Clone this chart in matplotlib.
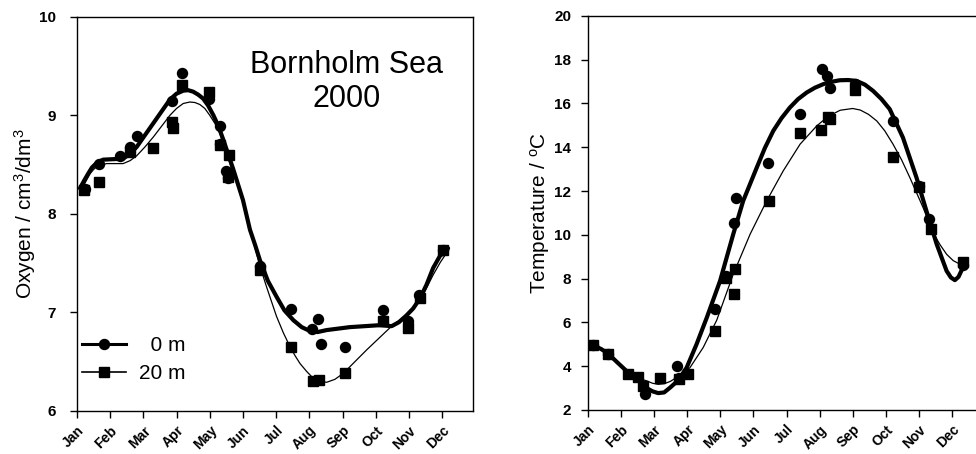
import matplotlib
matplotlib.use("Agg")
import matplotlib.pyplot as plt
from matplotlib.lines import Line2D

plt.rcParams["font.family"] = ["Liberation Sans", "DejaVu Sans"]
plt.rcParams["mathtext.default"] = "regular"

# ----------------------------------------------------------------------------
# Data (x in fractional months from 1 Jan)
# ----------------------------------------------------------------------------
MONTHS = ["Jan", "Feb", "Mar", "Apr", "May", "Jun",
          "Jul", "Aug", "Sep", "Oct", "Nov", "Dec"]

# Oxygen, 0 m (circles)
oxy0_x = [0.24, 0.67, 1.30, 1.60, 1.80, 2.85, 3.17, 3.99, 4.31, 4.31, 4.49,
          4.56, 5.51, 6.44, 7.09, 7.25, 7.34, 8.07, 9.22, 9.97, 10.31, 11.03]
oxy0_y = [8.25, 8.51, 8.59, 8.68, 8.79, 9.15, 9.43, 9.17, 8.89, 8.71, 8.43,
          8.36, 7.47, 7.03, 6.83, 6.93, 6.68, 6.65, 7.02, 6.91, 7.18, 7.63]
# Oxygen, 20 m (squares)
oxy20_x = [0.21, 0.67, 1.60, 2.28, 2.85, 2.90, 3.17, 3.99, 4.31, 4.59, 4.56,
           5.51, 6.44, 7.12, 7.30, 8.07, 9.22, 9.97, 10.33, 11.03]
oxy20_y = [8.24, 8.32, 8.63, 8.67, 8.93, 8.87, 9.31, 9.24, 8.70, 8.60, 8.37,
           7.43, 6.65, 6.30, 6.31, 6.38, 6.91, 6.84, 7.15, 7.63]
# Oxygen fitted curves
oxy0_fit_x = [0.09, 0.22, 0.34, 0.45, 0.54, 0.66, 0.79, 1.10, 1.39, 1.60, 1.80,
              2.05, 2.30, 2.55, 2.80, 3.00, 3.20, 3.35, 3.50, 3.65, 3.80, 3.95,
              4.11, 4.26, 4.41, 4.71, 5.00, 5.21, 5.37, 5.51, 5.75, 6.01, 6.25,
              6.52, 6.77, 7.02, 7.25, 7.52, 8.22, 9.13, 9.48, 9.70, 9.93, 10.13,
              10.33, 10.53, 10.73, 10.93, 11.18]
oxy0_fit_y = [8.26, 8.34, 8.41, 8.47, 8.50, 8.53, 8.55, 8.555, 8.56, 8.61, 8.68,
              8.80, 8.92, 9.04, 9.16, 9.22, 9.25, 9.255, 9.24, 9.21, 9.17, 9.10,
              9.00, 8.89, 8.75, 8.45, 8.14, 7.84, 7.68, 7.53, 7.32, 7.16, 7.02,
              6.92, 6.85, 6.81, 6.80, 6.82, 6.85, 6.87, 6.86, 6.90, 6.97, 7.04,
              7.14, 7.28, 7.45, 7.57, 7.65]
oxy20_fit_x = [0.19, 0.30, 0.40, 0.50, 0.59, 0.89, 1.39, 1.60, 1.80, 2.05, 2.30,
               2.55, 2.80, 3.00, 3.20, 3.40, 3.55, 3.70, 3.85, 4.00, 4.15, 4.30,
               4.60, 5.00, 5.21, 5.37, 5.51, 5.71, 6.01, 6.22, 6.42, 6.57, 6.72,
               6.92, 7.12, 7.32, 7.52, 7.77, 8.02, 8.73, 9.48, 10.13, 10.43,
               10.73, 10.95, 11.17]
oxy20_fit_y = [8.28, 8.35, 8.41, 8.45, 8.48, 8.51, 8.51, 8.54, 8.59, 8.68, 8.78,
               8.89, 9.00, 9.07, 9.12, 9.135, 9.13, 9.11, 9.07, 9.00, 8.92, 8.82,
               8.52, 8.13, 7.84, 7.65, 7.47, 7.26, 6.96, 6.79, 6.65, 6.56, 6.48,
               6.40, 6.33, 6.30, 6.29, 6.32, 6.38, 6.62, 6.86, 7.03, 7.18, 7.38,
               7.51, 7.62]

# Temperature, 0 m (circles)
tmp0_x = [0.16, 0.61, 1.72, 2.70, 2.76, 3.84, 4.17, 4.41, 4.47, 5.45, 6.41,
          7.06, 7.21, 7.31, 8.07, 9.22, 10.01, 10.31, 11.33]
tmp0_y = [4.95, 4.57, 2.75, 4.01, 3.45, 6.60, 8.12, 10.53, 11.70, 13.30, 15.51,
          17.56, 17.26, 16.72, 16.90, 15.20, 12.25, 10.71, 8.60]
# Temperature, 20 m (squares)
tmp20_x = [0.16, 0.61, 1.22, 1.52, 1.67, 2.18, 2.76, 3.03, 3.84, 4.17, 4.41,
           4.44, 5.47, 6.41, 7.04, 7.25, 7.31, 8.07, 9.22, 10.01, 10.38, 11.33]
tmp20_y = [4.95, 4.55, 3.63, 3.51, 3.10, 3.45, 3.40, 3.66, 5.61, 8.05, 7.29,
           8.43, 11.55, 14.67, 14.78, 15.40, 15.28, 16.60, 13.55, 12.20, 10.25,
           8.75]
# Temperature fitted curves
tmp0_fit_x = [0.16, 0.40, 0.61, 0.90, 1.22, 1.52, 1.77, 1.95, 2.12, 2.30, 2.48,
              2.65, 2.78, 2.98, 3.28, 3.59, 3.99, 4.39, 4.69, 5.10, 5.35, 5.60,
              5.85, 6.10, 6.35, 6.61, 6.86, 7.11, 7.36, 7.61, 7.86, 8.12, 8.37,
              8.62, 8.87, 9.12, 9.52, 9.93, 10.23, 10.54, 10.84, 10.97, 11.09,
              11.20, 11.33]
tmp0_fit_y = [4.95, 4.78, 4.57, 4.15, 3.70, 3.35, 3.00, 2.85, 2.77, 2.80, 3.02,
              3.25, 3.48, 3.93, 5.00, 6.22, 7.89, 10.03, 11.55, 13.07, 13.98,
              14.75, 15.33, 15.81, 16.20, 16.50, 16.72, 16.88, 16.99, 17.06,
              17.07, 17.03, 16.86, 16.57, 16.20, 15.74, 14.44, 12.61, 11.09, 9.57,
              8.35, 8.05, 7.93, 8.08, 8.50]
tmp20_fit_x = [0.16, 0.61, 1.22, 1.52, 1.77, 1.95, 2.12, 2.30, 2.48, 2.68, 3.08,
               3.48, 3.89, 4.39, 4.90, 5.40, 5.90, 6.41, 6.91, 7.25, 7.62, 8.00,
               8.23, 8.48, 8.73, 8.97, 9.22, 9.48, 9.73, 10.13, 10.43, 10.64,
               10.84, 11.04, 11.24]
tmp20_fit_y = [4.95, 4.57, 3.68, 3.45, 3.33, 3.22, 3.17, 3.20, 3.30, 3.48, 3.93,
               4.85, 6.10, 8.20, 10.03, 11.55, 12.92, 14.14, 14.97, 15.40, 15.69,
               15.77, 15.70, 15.50, 15.20, 14.75, 14.14, 13.42, 12.61, 11.24,
               10.10, 9.55, 9.11, 8.82, 8.66]

# ----------------------------------------------------------------------------
# Plot
# ----------------------------------------------------------------------------
fig = plt.figure(figsize=(9.76, 4.54), dpi=100)
ax1 = fig.add_axes([0.0789, 0.095, 0.4057, 0.868])
ax2 = fig.add_axes([0.6025, 0.097, 0.4057, 0.868])

THICK, THIN = 3.0, 0.9
MS_C, MS_S = 7.2, 6.5


def style_axis(ax, xmax, ypad):
    ax.set_xlim(0, xmax)
    ax.set_xticks(range(12))
    ax.set_xticklabels(MONTHS, rotation=45, ha="right", va="top",
                       rotation_mode="anchor", fontsize=10, fontweight="bold")
    ax.tick_params(direction="out", length=5, width=1, top=False, right=False)
    ax.tick_params(axis="x", pad=4)
    ax.tick_params(axis="y", labelsize=11, pad=ypad)
    for lbl in ax.get_yticklabels():
        lbl.set_fontweight("bold")
    for sp in ax.spines.values():
        sp.set_linewidth(1.0)


# Oxygen panel
ax1.plot(oxy0_fit_x, oxy0_fit_y, color="black", lw=THICK,
         solid_joinstyle="round", solid_capstyle="round")
ax1.plot(oxy20_fit_x, oxy20_fit_y, color="black", lw=THIN, solid_joinstyle="round")
ax1.plot(oxy0_x, oxy0_y, "o", color="black", ms=MS_C, ls="none")
ax1.plot(oxy20_x, oxy20_y, "s", color="black", ms=MS_S, ls="none")
ax1.set_ylim(6, 10)
ax1.set_yticks([6, 7, 8, 9, 10])
style_axis(ax1, 11.93, 10)
ax1.set_ylabel("Oxygen / cm$^3$/dm$^3$", fontsize=15)
ax1.yaxis.set_label_coords(-0.098, 0.5)
ax1.text(0.68, 0.835, "Bornholm Sea\n2000", transform=ax1.transAxes,
         ha="center", va="center", fontsize=22, linespacing=1.15)

handles = [
    Line2D([], [], color="black", lw=2.2, marker="o", ms=MS_C),
    Line2D([], [], color="black", lw=1.2, marker="s", ms=MS_S),
]
ax1.legend(handles, ["  0 m", "20 m"], loc="lower left",
           bbox_to_anchor=(0.003, 0.06), frameon=False, fontsize=15,
           handlelength=2.1, handletextpad=0.6, labelspacing=0.42,
           borderpad=0.2, borderaxespad=0.0)

# Temperature panel
ax2.plot(tmp0_fit_x, tmp0_fit_y, color="black", lw=THICK,
         solid_joinstyle="round", solid_capstyle="round")
ax2.plot(tmp20_fit_x, tmp20_fit_y, color="black", lw=THIN, solid_joinstyle="round")
ax2.plot(tmp0_x, tmp0_y, "o", color="black", ms=MS_C, ls="none")
ax2.plot(tmp20_x, tmp20_y, "s", color="black", ms=MS_S, ls="none")
ax2.set_ylim(2, 20)
ax2.set_yticks(range(2, 21, 2))
style_axis(ax2, 11.97, 7)
ax2.set_ylabel("Temperature / $^o$C", fontsize=15)
ax2.yaxis.set_label_coords(-0.092, 0.5)

fig.savefig("out.png", dpi=100)
